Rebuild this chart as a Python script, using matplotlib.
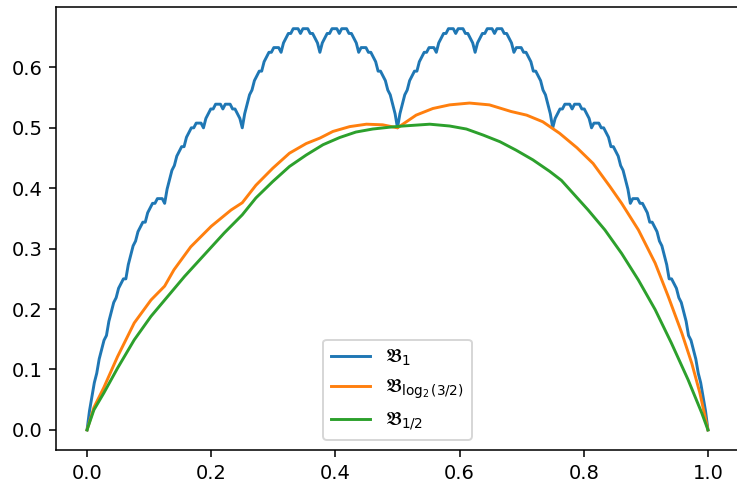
import matplotlib
matplotlib.use("Agg")
import matplotlib.pyplot as plt
import numpy as np

# B_1, read at steps of 1/256
b1_y = [0.0, 0.0312, 0.0547, 0.0781, 0.0938, 0.1172, 0.1328, 0.1484,
        0.1562, 0.1797, 0.1953, 0.2109, 0.2188, 0.2344, 0.2422, 0.25,
        0.25, 0.2734, 0.2891, 0.3047, 0.3125, 0.3281, 0.3359, 0.3438,
        0.3438, 0.3594, 0.3672, 0.375, 0.375, 0.3828, 0.3828, 0.3828,
        0.375, 0.3984, 0.4141, 0.4297, 0.4375, 0.4531, 0.4609, 0.4688,
        0.4688, 0.4844, 0.4922, 0.5, 0.5, 0.5078, 0.5078, 0.5078,
        0.5, 0.5156, 0.5234, 0.5312, 0.5312, 0.5391, 0.5391, 0.5391,
        0.5312, 0.5391, 0.5391, 0.5391, 0.5312, 0.5312, 0.5234, 0.5156,
        0.5, 0.5234, 0.5391, 0.5547, 0.5625, 0.5781, 0.5859, 0.5938,
        0.5938, 0.6094, 0.6172, 0.625, 0.625, 0.6328, 0.6328, 0.6328,
        0.625, 0.6406, 0.6484, 0.6562, 0.6562, 0.6641, 0.6641, 0.6641,
        0.6562, 0.6641, 0.6641, 0.6641, 0.6562, 0.6562, 0.6484, 0.6406,
        0.625, 0.6406, 0.6484, 0.6562, 0.6562, 0.6641, 0.6641, 0.6641,
        0.6562, 0.6641, 0.6641, 0.6641, 0.6562, 0.6562, 0.6484, 0.6406,
        0.625, 0.6328, 0.6328, 0.6328, 0.625, 0.625, 0.6172, 0.6094,
        0.5938, 0.5938, 0.5859, 0.5781, 0.5625, 0.5547, 0.5391, 0.5234,
        0.5,
        0.5234, 0.5391, 0.5547, 0.5625, 0.5781, 0.5859, 0.5938, 0.5938,
        0.6094, 0.6172, 0.625, 0.625, 0.6328, 0.6328, 0.6328, 0.625,
        0.6406, 0.6484, 0.6562, 0.6562, 0.6641, 0.6641, 0.6641, 0.6562,
        0.6641, 0.6641, 0.6641, 0.6562, 0.6562, 0.6484, 0.6406, 0.625,
        0.6406, 0.6484, 0.6562, 0.6562, 0.6641, 0.6641, 0.6641, 0.6562,
        0.6641, 0.6641, 0.6641, 0.6562, 0.6562, 0.6484, 0.6406, 0.625,
        0.6328, 0.6328, 0.6328, 0.625, 0.625, 0.6172, 0.6094, 0.5938,
        0.5938, 0.5859, 0.5781, 0.5625, 0.5547, 0.5391, 0.5234, 0.5,
        0.5156, 0.5234, 0.5312, 0.5312, 0.5391, 0.5391, 0.5391, 0.5312,
        0.5391, 0.5391, 0.5391, 0.5312, 0.5312, 0.5234, 0.5156, 0.5,
        0.5078, 0.5078, 0.5078, 0.5, 0.5, 0.4922, 0.4844, 0.4688,
        0.4688, 0.4609, 0.4531, 0.4375, 0.4297, 0.4141, 0.3984, 0.375,
        0.3828, 0.3828, 0.3828, 0.375, 0.375, 0.3672, 0.3594, 0.3438,
        0.3438, 0.3359, 0.3281, 0.3125, 0.3047, 0.2891, 0.2734, 0.25,
        0.25, 0.2422, 0.2344, 0.2188, 0.2109, 0.1953, 0.1797, 0.1562,
        0.1484, 0.1328, 0.1172, 0.0938, 0.0781, 0.0547, 0.0312, 0.0]
b1_x = np.linspace(0, 1, len(b1_y))

# B_log2(3/2)
b2_x = [0.0, 0.011, 0.027, 0.049, 0.076, 0.103, 0.125, 0.140, 0.167, 0.200,
        0.232, 0.250, 0.272, 0.299, 0.326, 0.353, 0.375, 0.396, 0.423, 0.450,
        0.476, 0.500, 0.530, 0.557, 0.584, 0.616, 0.648, 0.683, 0.708, 0.734,
        0.761, 0.789, 0.815, 0.842, 0.861, 0.888, 0.915, 0.936, 0.958, 0.974,
        0.987, 1.0]
b2_y = [0.0, 0.037, 0.070, 0.121, 0.177, 0.215, 0.238, 0.265, 0.303, 0.337,
        0.364, 0.376, 0.405, 0.433, 0.458, 0.474, 0.483, 0.494, 0.502, 0.506,
        0.505, 0.500, 0.521, 0.532, 0.538, 0.541, 0.538, 0.527, 0.521, 0.510,
        0.491, 0.467, 0.441, 0.403, 0.375, 0.331, 0.276, 0.221, 0.160, 0.110,
        0.061, 0.0]

# B_1/2
b3_x = [0.0, 0.011, 0.027, 0.049, 0.076, 0.103, 0.130, 0.157, 0.189, 0.221,
        0.250, 0.272, 0.299, 0.326, 0.353, 0.380, 0.407, 0.433, 0.460, 0.487,
        0.509, 0.552, 0.584, 0.611, 0.638, 0.665, 0.691, 0.718, 0.745, 0.764,
        0.807, 0.834, 0.861, 0.888, 0.915, 0.941, 0.968, 0.990, 1.0]
b3_y = [0.0, 0.033, 0.061, 0.102, 0.149, 0.188, 0.221, 0.254, 0.290, 0.326,
        0.356, 0.384, 0.411, 0.436, 0.455, 0.472, 0.484, 0.493, 0.498, 0.501,
        0.503, 0.506, 0.503, 0.498, 0.488, 0.477, 0.463, 0.447, 0.428, 0.413,
        0.364, 0.331, 0.292, 0.248, 0.199, 0.144, 0.083, 0.028, 0.0]

fig = plt.figure(figsize=(737/140, 482/140), dpi=140)
ax = fig.add_axes([56/737, 32/482, 683/737, 442.7/482])

ax.plot(b1_x, b1_y, label=r'$\mathfrak{B}_1$')
ax.plot(b2_x, b2_y, label=r'$\mathfrak{B}_{\log_2(3/2)}$')
ax.plot(b3_x, b3_y, label=r'$\mathfrak{B}_{1/2}$')

ax.set_xlim(-0.05, 1.05)
ax.set_ylim(-0.0333, 0.6995)
ax.legend(loc='lower center')

fig.savefig("out.png", dpi=140)
